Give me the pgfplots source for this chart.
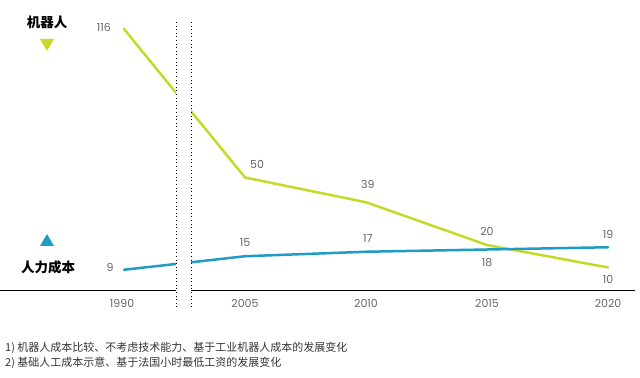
\documentclass[border=0pt]{standalone}
\usepackage{fontspec}
\setmainfont{Poppins}
\newfontfamily\cjk{Noto Sans CJK SC}
\usepackage{pgfplots}
\pgfplotsset{compat=1.18}
\definecolor{robgreen}{HTML}{C5DA28}
\definecolor{labblue}{HTML}{1E9CC4}
\definecolor{numgray}{HTML}{666666}
\begin{document}
\begin{tikzpicture}
\useasboundingbox (0,0) rectangle (640bp,378bp);
\begin{axis}[
  at={(0,0)}, anchor=south west,
  scale only axis, width=640bp, height=378bp,
  xmin=1994.876, xmax=2021.322,
  ymin=-39.11, ymax=128.89,
  hide axis, clip=false,
]
\addplot[robgreen, line width=2.5bp, line cap=round, line join=round] coordinates {(2000,116) (2005,50) (2010,39) (2015,20) (2020,10)};
\addplot[labblue, line width=2.5bp, line cap=round, line join=round] coordinates {(2000,9) (2005,15) (2010,17) (2015,18) (2020,19)};
% break gap
\fill[white] (axis cs:2002.149,-12) rectangle (axis cs:2002.769,125);
% axis line
\draw[black, line width=1bp] (axis cs:1994.876,0) -- (axis cs:2002.149,0);
\draw[black, line width=1bp] (axis cs:2002.769,0) -- (axis cs:2021.12,0);
% dotted break lines
\draw[black, line width=1bp, dash pattern=on 1bp off 2.6bp] (axis cs:2002.149,119.1) -- (axis cs:2002.149,-8.9);
\draw[black, line width=1bp, dash pattern=on 1bp off 2.6bp] (axis cs:2002.769,119.1) -- (axis cs:2002.769,-8.9);
% tick labels
\begin{scope}[every node/.style={font=\fontsize{11bp}{13bp}\selectfont, text=numgray}]
\node at (axis cs:1999.92,-5.8) {1990};
\node at (axis cs:2005,-5.8) {2005};
\node at (axis cs:2010,-5.8) {2010};
\node at (axis cs:2015,-5.8) {2015};
\node at (axis cs:2020,-5.8) {2020};
% data labels
\node at (axis cs:1999.17,116.9) {116};
\node at (axis cs:1999.42,9.8) {9};
\node at (axis cs:2005.5,56) {50};
\node at (axis cs:2005,21.3) {15};
\node at (axis cs:2010.08,47.1) {39};
\node at (axis cs:2010.08,23.1) {17};
\node at (axis cs:2015,26.2) {20};
\node at (axis cs:2015,12) {18};
\node at (axis cs:2020,24.9) {19};
\node at (axis cs:2020,4.9) {10};
\end{scope}
\end{axis}
% legend-like labels
\node[font=\cjk\bfseries\fontsize{13.5bp}{15bp}\selectfont] at (47bp,356bp) {机器人};
\fill[robgreen] (40bp,339bp) -- (54bp,339bp) -- (47bp,327bp) -- cycle;
\fill[labblue] (40bp,132bp) -- (54bp,132bp) -- (47bp,144bp) -- cycle;
\node[font=\cjk\bfseries\fontsize{13.5bp}{15bp}\selectfont] at (48bp,111bp) {人力成本};
% footnotes
\node[anchor=west, inner sep=0pt, font=\cjk\fontsize{11bp}{12bp}\selectfont, text=black!80] at (5bp,30bp) {1) 机器人成本比较、不考虑技术能力、基于工业机器人成本的发展变化};
\node[anchor=west, inner sep=0pt, font=\cjk\fontsize{11bp}{12bp}\selectfont, text=black!80] at (5bp,15bp) {2) 基础人工成本示意、基于法国小时最低工资的发展变化};
\end{tikzpicture}
\end{document}
